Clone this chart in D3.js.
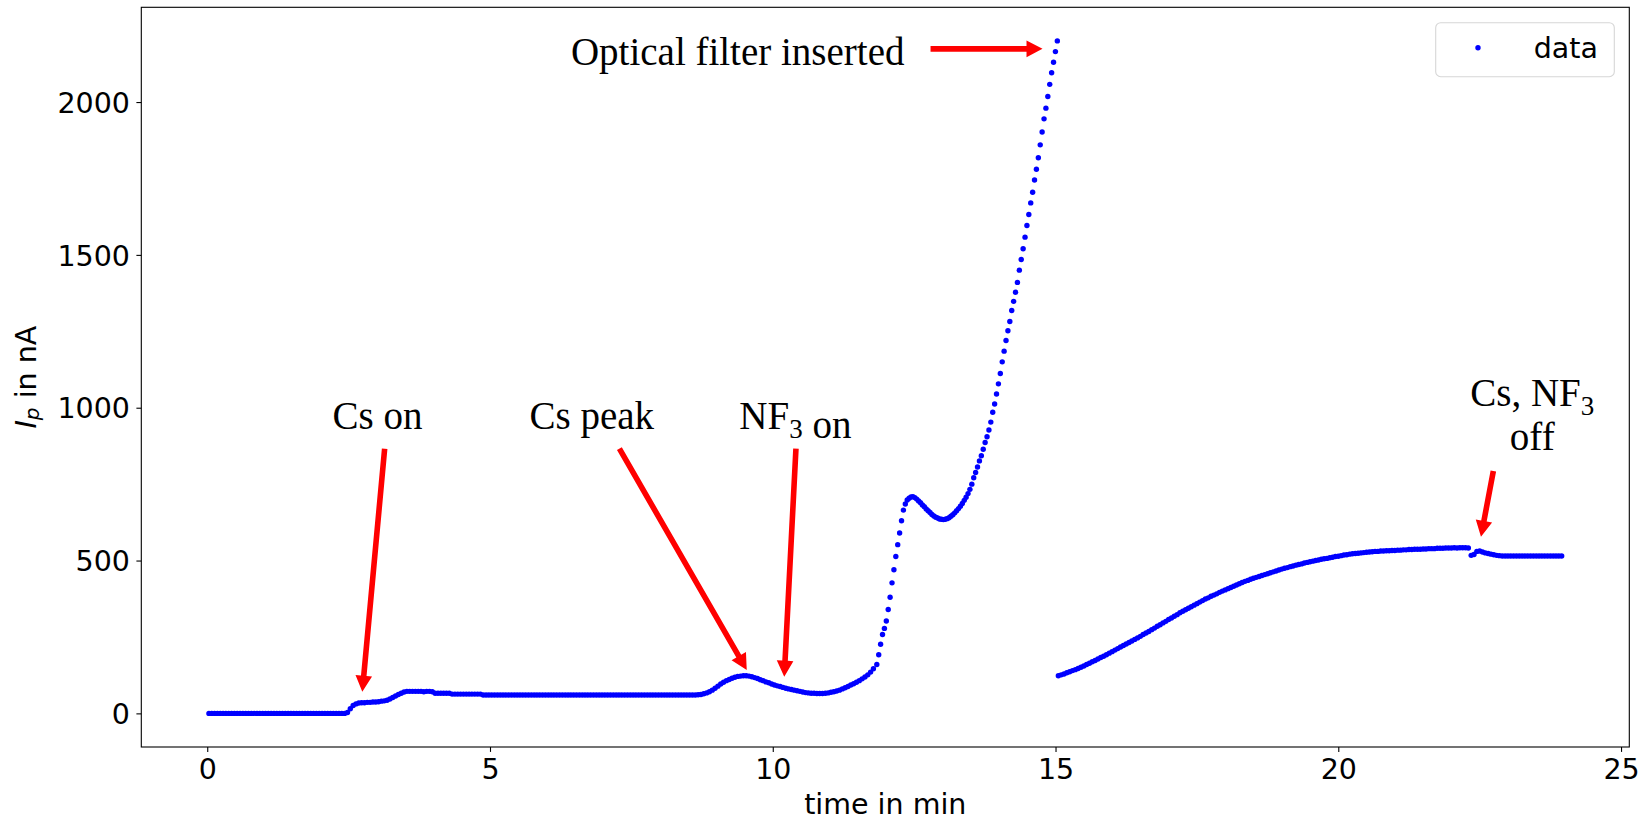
<!DOCTYPE html>
<html>
<head>
<meta charset="utf-8">
<script src="https://cdn.jsdelivr.net/npm/d3@7"></script>
<style>
  html, body { margin: 0; padding: 0; background: #fff; }
  svg { display: block; }
</style>
</head>
<body>
<div id="chart"></div>
<script>
const phaseStart = [0.03, 11.84, 15.05];   // min
const phaseStep  = [0.05, 0.0336, 0.05];   // min between readings

// 0.03 .. 11.78 min : baseline, Cs on, Cs peak, NF3 on
const phaseBaseline = [
  0,0,0,0,0,0,0,0,0,0,
  0,0,0,0,0,0,0,0,0,0,
  0,0,0,0,0,0,0,0,0,0,
  0,0,0,0,0,0,0,0,0,0,
  0,0,0,0,0,0,0,0,0,3,
  15,26,31,34,35,35,36,36,37,37,
  38,40,41,43,47,52,57,62,66,70,
  72,72,72,72,72,72,71,72,72,71,
  66,66,66,66,66,66,63,63,63,63,
  63,63,63,63,63,63,63,60,60,60,
  60,60,60,60,60,60,60,60,60,60,
  60,60,60,60,60,60,60,60,60,60,
  60,60,60,60,60,60,60,60,60,60,
  60,60,60,60,60,60,60,60,60,60,
  60,60,60,60,60,60,60,60,60,60,
  60,60,60,60,60,60,60,60,60,60,
  60,60,60,60,60,60,60,60,60,60,
  60,60,60,61,62,64,67,71,76,82,
  89,96,102,107,111,115,118,121,122,123,
  123,122,120,117,114,110,107,103,100,96,
  93,90,88,85,82,80,78,76,74,72,
  70,68,67,66,66,65,65,65,66,67,
  69,71,73,76,80,84,88,93,97,102,
  107,113,119,126,135,146
];

// 11.84 .. 15.03 min : fast rise until the optical filter goes in
const phaseRise = [
  160,192,226,258,278,302,340,380,427,470,
  513,552,590,630,665,685,698,704,708,709,
  706,701,695,689,682,676,669,663,657,651,
  646,642,639,636,635,634,635,637,640,645,
  650,656,663,670,678,687,697,707,719,733,
  750,771,788,806,826,843,864,886,905,927,
  953,985,1012,1045,1078,1112,1150,1185,1220,1252,
  1282,1318,1348,1378,1410,1450,1485,1520,1558,1596,
  1632,1670,1705,1745,1780,1818,1860,1902,1945,1980,
  2018,2058,2096,2130,2165,2200
];

// 15.05 .. 23.95 min : with optical filter, Cs and NF3 off at ~22.35
const phaseFilter = [
  123,126,129,133,136,140,143,147,151,155,
  160,164,169,173,178,183,187,192,197,202,
  207,212,217,222,227,232,237,242,247,252,
  258,263,268,274,279,285,290,296,301,307,
  312,318,323,329,334,339,344,349,354,359,
  364,369,374,378,383,387,391,396,400,404,
  408,412,416,420,424,428,432,435,439,442,
  445,448,451,454,457,460,463,466,469,472,
  475,477,480,482,485,487,489,492,494,496,
  498,500,502,504,506,507,509,511,513,514,
  516,518,519,521,522,523,524,525,526,527,
  528,529,530,530,531,531,532,532,533,533,
  534,534,535,535,536,536,537,537,537,538,
  538,539,539,539,540,540,540,541,541,541,
  542,541,542,542,542,541,517,520,530,531,
  528,525,523,521,519,517,516,515,515,515,
  515,515,515,515,515,515,515,515,515,515,
  515,515,515,515,515,515,515,515,515
];

const xTicks = [0, 5, 10, 15, 20, 25];
const yTicks = [0, 500, 1000, 1500, 2000];

// annotations in data units: text anchor, arrow tail, arrow tip ("_3" = subscript)
const notes = [
  { lines: ["Optical filter inserted"], at: [9.38, 2120], from: [12.79, 2174], to: [14.77, 2174] },
  { lines: ["Cs on"],   at: [3.01, 929],  from: [3.137, 866],  to: [2.742, 71] },
  { lines: ["Cs peak"], at: [6.80, 929],  from: [7.288, 866],  to: [9.54, 142] },
  { lines: ["NF_3 on"], at: [10.40, 929], from: [10.41, 866],  to: [10.203, 120] },
  { lines: ["Cs, NF_3", "off"], at: [23.43, 1005], from: [22.742, 793], to: [22.523, 578] }
];

const width = 1647, height = 820;
const margin = { top: 7.3, right: 17.7, bottom: 73, left: 141.3 };
const sans = "'DejaVu Sans', sans-serif";
const serif = "'Liberation Serif', 'DejaVu Serif', serif";
const dotR = 2.7;

const phases = [phaseBaseline, phaseRise, phaseFilter];
const points = phases.flatMap((vals, p) =>
  vals.map((v, i) => ({ t: phaseStart[p] + i * phaseStep[p], I: v })));

// matplotlib style 5% padding
const pad = (ext) => { const d = (ext[1] - ext[0]) * 0.05; return [ext[0] - d, ext[1] + d]; };

const x = d3.scaleLinear()
  .domain(pad(d3.extent(points, d => d.t)))
  .range([margin.left, width - margin.right]);
const y = d3.scaleLinear()
  .domain(pad(d3.extent(points, d => d.I)))
  .range([height - margin.bottom, margin.top]);

const svg = d3.select("#chart").append("svg")
  .attr("width", width).attr("height", height);

// data
svg.append("g")
  .selectAll("circle")
  .data(points)
  .join("circle")
  .attr("cx", d => x(d.t))
  .attr("cy", d => y(d.I))
  .attr("r", dotR)
  .attr("fill", "#0000ff");

// axes
const xAxis = svg.append("g")
  .attr("transform", `translate(0,${height - margin.bottom})`)
  .call(d3.axisBottom(x).tickValues(xTicks).tickSize(4.9).tickPadding(7.2).tickFormat(d3.format("d")));
const yAxis = svg.append("g")
  .attr("transform", `translate(${margin.left},0)`)
  .call(d3.axisLeft(y).tickValues(yTicks).tickSize(4.9).tickPadding(6.4).tickFormat(d3.format("d")));

[xAxis, yAxis].forEach(g => {
  g.select(".domain").remove();
  g.attr("font-family", sans).attr("font-size", 28.5);
  g.selectAll(".tick line").attr("stroke", "#000").attr("stroke-width", 1.1);
  g.selectAll(".tick text").attr("fill", "#000");
});
yAxis.selectAll(".tick text").attr("dy", "0.36em");

// frame
svg.append("rect")
  .attr("x", margin.left).attr("y", margin.top)
  .attr("width", width - margin.left - margin.right)
  .attr("height", height - margin.top - margin.bottom)
  .attr("fill", "none").attr("stroke", "#000").attr("stroke-width", 1.1);

// axis labels
svg.append("text")
  .attr("x", (margin.left + width - margin.right) / 2)
  .attr("y", 814)
  .attr("text-anchor", "middle")
  .attr("font-family", sans).attr("font-size", 28.5)
  .text("time in min");

const ylab = svg.append("text")
  .attr("transform", `translate(36,${(margin.top + height - margin.bottom) / 2}) rotate(-90)`)
  .attr("text-anchor", "middle")
  .attr("font-family", sans).attr("font-size", 28.5);
ylab.append("tspan").attr("font-style", "italic").text("I");
ylab.append("tspan").attr("font-style", "italic").attr("font-size", 20).attr("dy", 3).text("p");
ylab.append("tspan").attr("dy", -3).text(" in nA");

// annotations
function arrowPath(x1, y1, x2, y2) {
  const len = Math.hypot(x2 - x1, y2 - y1);
  const ux = (x2 - x1) / len, uy = (y2 - y1) / len;
  const nx = -uy, ny = ux;
  const w = 2.8, hw = 8.3, hl = 16;
  const bx = x2 - ux * hl, by = y2 - uy * hl;
  const pts = [
    [x1 + nx * w, y1 + ny * w], [bx + nx * w, by + ny * w], [bx + nx * hw, by + ny * hw],
    [x2, y2],
    [bx - nx * hw, by - ny * hw], [bx - nx * w, by - ny * w], [x1 - nx * w, y1 - ny * w]
  ];
  return "M" + pts.map(p => p.join(",")).join("L") + "Z";
}

const noteG = svg.append("g");
notes.forEach(n => {
  noteG.append("path")
    .attr("d", arrowPath(x(n.from[0]), y(n.from[1]), x(n.to[0]), y(n.to[1])))
    .attr("fill", "#ff0000");
  n.lines.forEach((line, li) => {
    const t = noteG.append("text")
      .attr("x", x(n.at[0]))
      .attr("y", y(n.at[1]) + li * 44.3)
      .attr("text-anchor", "middle")
      .attr("font-family", serif).attr("font-size", 39)
      .attr("fill", "#000");
    line.split(/(_\d)/).filter(s => s.length).forEach(part => {
      if (part.startsWith("_")) {
        t.append("tspan").attr("font-size", 27).attr("dy", 9).text(part.slice(1));
        t.append("tspan").attr("dy", -9).text("");
      } else {
        t.append("tspan").text(part);
      }
    });
  });
});

// legend
const right = width - margin.right;
const leg = svg.append("g").attr("transform", `translate(${right - 193.6},${margin.top + 15.4})`);
leg.append("rect")
  .attr("width", 178.6).attr("height", 54).attr("rx", 5)
  .attr("fill", "#fff").attr("fill-opacity", 0.8)
  .attr("stroke", "#d6d6d6").attr("stroke-width", 1.1);
leg.append("circle").attr("cx", 42.3).attr("cy", 25).attr("r", dotR).attr("fill", "#0000ff");
leg.append("text")
  .attr("x", 98).attr("y", 35.6)
  .attr("font-family", sans).attr("font-size", 28.5)
  .text("data");
</script>
</body>
</html>
